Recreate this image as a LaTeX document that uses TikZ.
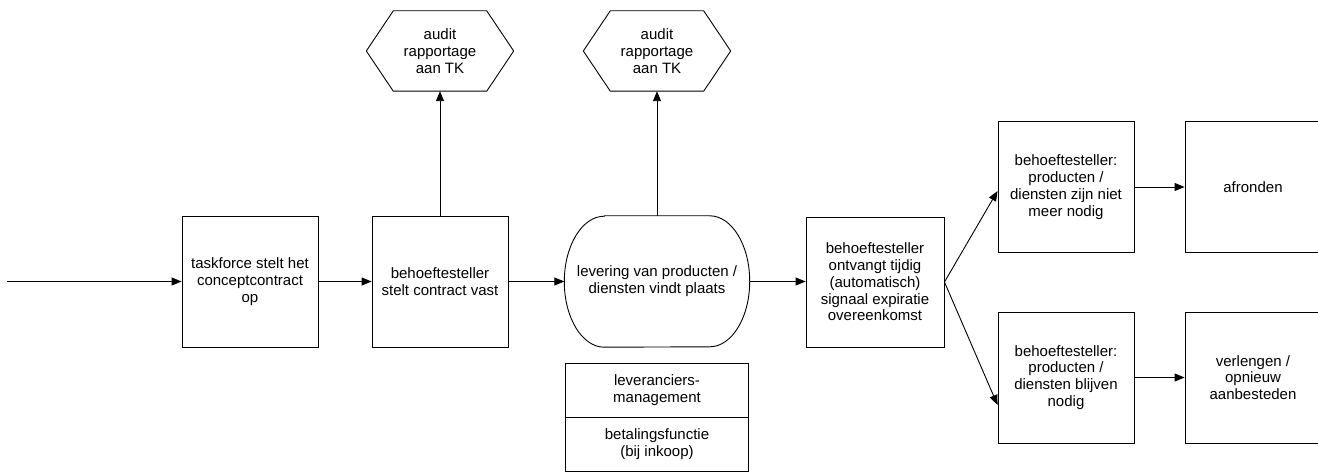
\documentclass[tikz,border=0pt]{standalone}
\usepackage{fontspec}
\setmainfont{Liberation Sans}
\usetikzlibrary{arrows.meta,calc}
\begin{document}
\begin{tikzpicture}[x=1pt,y=-1pt,
  every node/.style={font=\fontsize{15}{16.8}\selectfont, align=center, inner sep=0pt},
  stepbox/.style={draw, line width=0.9pt, minimum width=136pt, minimum height=131pt},
  frame/.style={minimum width=#1},
  hexnode/.style={minimum width=147pt, minimum height=80pt},
  capnode/.style={minimum width=185pt, minimum height=131pt},
  stackbox/.style={draw, line width=0.9pt, minimum width=183pt, minimum height=54pt},
  shapeline/.style={line width=0.9pt},
  arr/.style={line width=0.9pt, -{Triangle[length=10pt,width=8pt]}}
]
\clip (0,0) rectangle (1318,473);
\fill[white] (0,0) rectangle (1318,473);

% main process boxes
\node[stepbox] (b1) at (250,281.5) {taskforce stelt het\\conceptcontract\\op};
\node[stepbox] (b2) at (440,281.5) {behoeftesteller\\stelt contract vast};
\node[capnode] (cap) at (657,281.5) {levering van producten /\\diensten vindt plaats};
\node[stepbox, minimum width=138pt, minimum height=130pt] (b3) at (875,282) {behoeftesteller\\ontvangt tijdig\\(automatisch)\\signaal expiratie\\overeenkomst};
\node[stepbox] (b4) at (1066,187) {behoeftesteller:\\producten /\\diensten zijn niet\\meer nodig};
\node[stepbox] (b5) at (1253,187) {afronden};
\node[stepbox] (b6) at (1066,377.5) {behoeftesteller:\\producten /\\diensten blijven\\nodig};
\node[stepbox] (b7) at (1253,377.5) {verlengen /\\opnieuw\\aanbesteden};

% hexagons
\node[hexnode] (h1) at (440,51) {audit\\rapportage\\aan TK};
\node[hexnode] (h2) at (657,51) {audit\\rapportage\\aan TK};
\foreach \h in {h1,h2}{
  \draw[shapeline] ([xshift=27pt]\h.north west) -- ([xshift=-27pt]\h.north east) -- (\h.east)
    -- ([xshift=-27pt]\h.south east) -- ([xshift=27pt]\h.south west) -- (\h.west) -- cycle;
}

% capsule outline
\draw[shapeline] ([xshift=40pt]cap.north west) -- ([xshift=-40pt]cap.north east)
  arc[start angle=90, end angle=-90, x radius=40pt, y radius=65.5pt]
  -- ([xshift=40pt]cap.south west)
  arc[start angle=270, end angle=90, x radius=40pt, y radius=65.5pt] -- cycle;

% stacked boxes below
\node[stackbox] (s1) at (657,390) {leveranciers-\\management};
\node[stackbox] (s2) at (657,444) {betalingsfunctie\\(bij inkoop)};

% connectors
\coordinate (start) at (7,281.5);
\draw[arr] (start) -- (b1.west);
\draw[arr] (b1.east) -- (b2.west);
\draw[arr] (b2.east) -- (cap.west);
\draw[arr] (b2.north) -- (h1.south);
\draw[arr] (cap.north) -- (h2.south);
\draw[arr] (cap.east) -- (b3.west |- cap.east);
\draw[arr] (b3.east) -- ([yshift=-4pt]b4.west);
\draw[arr] (b3.east) -- ([yshift=-27.5pt]b6.west);
\draw[arr] (b4.east) -- (b5.west);
\draw[arr] (b6.east) -- (b7.west);
\end{tikzpicture}
\end{document}
